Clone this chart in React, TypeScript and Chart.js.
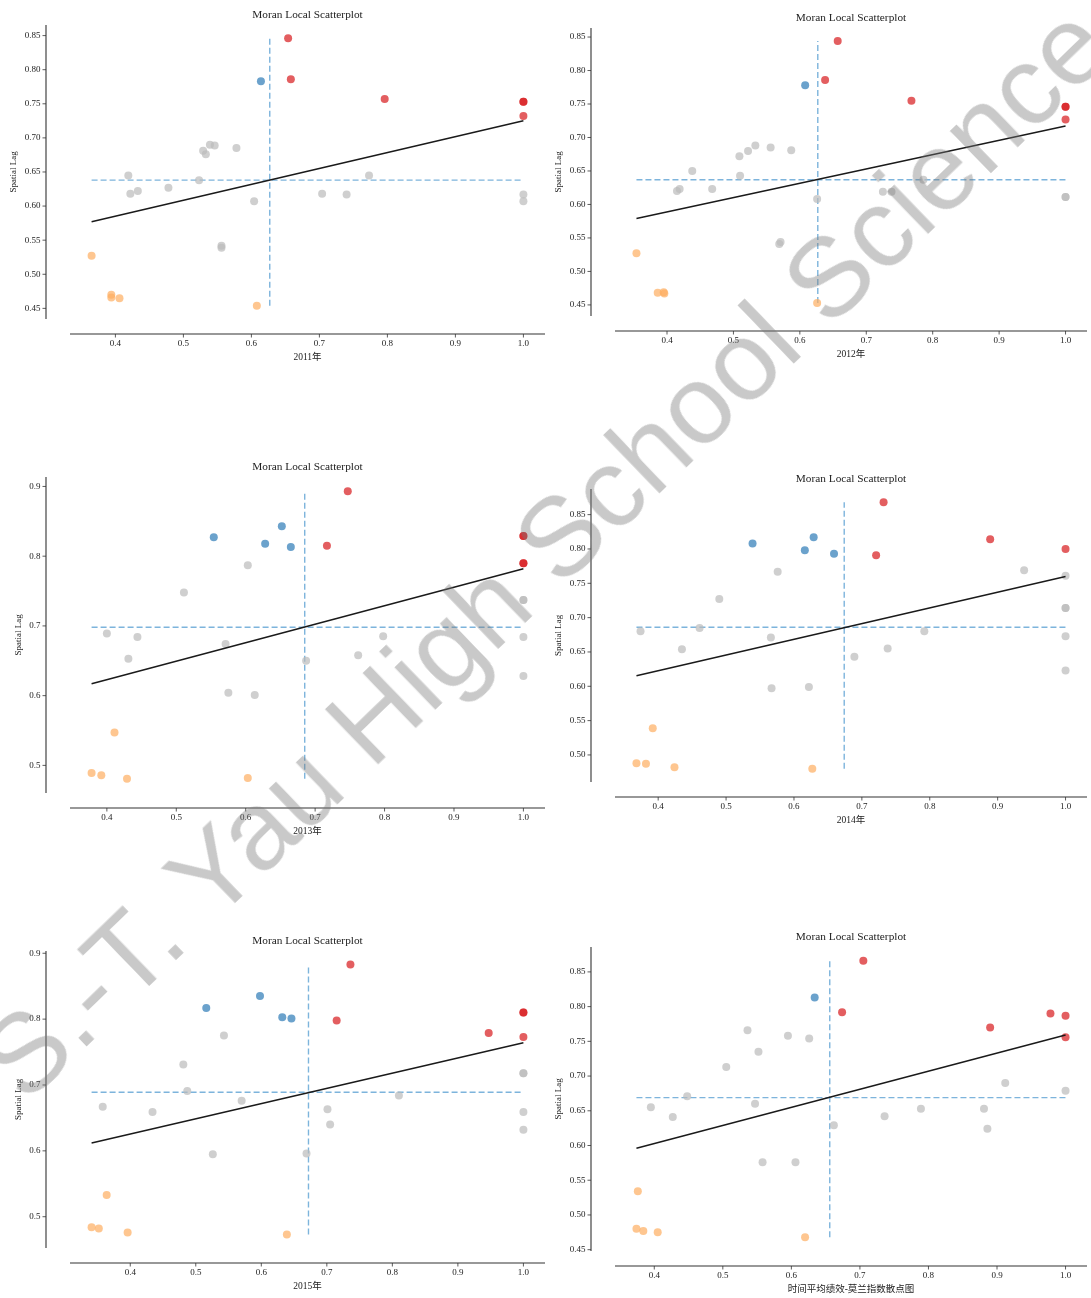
import React, { useEffect, useRef } from "react";
import { Chart, registerables } from "chart.js";

Chart.register(...registerables);

// ---------------- data ----------------
const TITLE = "Moran Local Scatterplot";
const Y_LABEL = "Spatial Lag";
const X_LABELS = ["2011年", "2012年", "2013年", "2014年", "2015年", "时间平均绩效-莫兰指数散点图"];
const CATEGORIES = ["NS", "LL", "LH", "HH"]; // not significant, low-low, low-high, high-high
const X_TICKS = [0.4, 0.5, 0.6, 0.7, 0.8, 0.9, 1.0];
const Y_TICKS_2011 = [0.45, 0.5, 0.55, 0.6, 0.65, 0.7, 0.75, 0.8, 0.85];
const Y_TICKS_2012 = [0.45, 0.5, 0.55, 0.6, 0.65, 0.7, 0.75, 0.8, 0.85];
const Y_TICKS_2013 = [0.5, 0.6, 0.7, 0.8, 0.9];
const Y_TICKS_2014 = [0.5, 0.55, 0.6, 0.65, 0.7, 0.75, 0.8, 0.85];
const Y_TICKS_2015 = [0.5, 0.6, 0.7, 0.8, 0.9];
const Y_TICKS_AVG = [0.45, 0.5, 0.55, 0.6, 0.65, 0.7, 0.75, 0.8, 0.85];

// 2011
const X_2011 = [0.654, 0.658, 0.796, 1.0, 1.0, 1.0, 0.614, 0.365, 0.394, 0.394, 0.406, 0.608, 0.419, 0.422, 0.433, 0.478, 0.523, 0.529, 0.533, 0.539, 0.546, 0.578, 0.556, 0.556, 0.604, 0.704, 0.740, 0.773, 1.0, 1.0];
const Y_2011 = [0.846, 0.786, 0.757, 0.753, 0.753, 0.732, 0.783, 0.527, 0.470, 0.466, 0.465, 0.454, 0.645, 0.618, 0.622, 0.627, 0.638, 0.681, 0.676, 0.690, 0.689, 0.685, 0.542, 0.539, 0.607, 0.618, 0.617, 0.645, 0.617, 0.607];
const Q_2011 = ["HH", "HH", "HH", "HH", "HH", "HH", "LH", "LL", "LL", "LL", "LL", "LL", "NS", "NS", "NS", "NS", "NS", "NS", "NS", "NS", "NS", "NS", "NS", "NS", "NS", "NS", "NS", "NS", "NS", "NS"];
const REG_X_2011 = [0.365, 1.0];
const REG_Y_2011 = [0.577, 0.725];
const MEAN_2011 = [0.627, 0.638];

// 2012
const X_2012 = [0.657, 0.638, 0.768, 1.0, 1.0, 1.0, 0.608, 0.354, 0.386, 0.395, 0.396, 0.626, 0.415, 0.419, 0.438, 0.468, 0.509, 0.510, 0.522, 0.533, 0.556, 0.587, 0.571, 0.569, 0.626, 0.725, 0.738, 0.786, 1.0, 1.0];
const Y_2012 = [0.844, 0.786, 0.755, 0.746, 0.746, 0.727, 0.778, 0.527, 0.468, 0.469, 0.467, 0.453, 0.620, 0.623, 0.650, 0.623, 0.672, 0.643, 0.680, 0.688, 0.685, 0.681, 0.544, 0.541, 0.608, 0.619, 0.619, 0.637, 0.611, 0.611];
const Q_2012 = ["HH", "HH", "HH", "HH", "HH", "HH", "LH", "LL", "LL", "LL", "LL", "LL", "NS", "NS", "NS", "NS", "NS", "NS", "NS", "NS", "NS", "NS", "NS", "NS", "NS", "NS", "NS", "NS", "NS", "NS"];
const REG_X_2012 = [0.354, 1.0];
const REG_Y_2012 = [0.579, 0.717];
const MEAN_2012 = [0.627, 0.637];

// 2013
const X_2013 = [0.747, 0.717, 1.0, 1.0, 1.0, 1.0, 0.554, 0.628, 0.652, 0.665, 0.378, 0.392, 0.411, 0.429, 0.603, 0.400, 0.431, 0.444, 0.511, 0.571, 0.575, 0.603, 0.613, 0.687, 0.762, 0.798, 1.0, 1.0, 1.0, 1.0];
const Y_2013 = [0.893, 0.815, 0.829, 0.829, 0.790, 0.790, 0.827, 0.818, 0.843, 0.813, 0.489, 0.486, 0.547, 0.481, 0.482, 0.689, 0.653, 0.684, 0.748, 0.674, 0.604, 0.787, 0.601, 0.650, 0.658, 0.685, 0.737, 0.737, 0.684, 0.628];
const Q_2013 = ["HH", "HH", "HH", "HH", "HH", "HH", "LH", "LH", "LH", "LH", "LL", "LL", "LL", "LL", "LL", "NS", "NS", "NS", "NS", "NS", "NS", "NS", "NS", "NS", "NS", "NS", "NS", "NS", "NS", "NS"];
const REG_X_2013 = [0.378, 1.0];
const REG_Y_2013 = [0.617, 0.782];
const MEAN_2013 = [0.685, 0.698];

// 2014
const X_2014 = [0.732, 0.721, 0.889, 1.0, 0.539, 0.616, 0.629, 0.659, 0.368, 0.382, 0.392, 0.424, 0.627, 0.374, 0.435, 0.461, 0.490, 0.566, 0.567, 0.576, 0.622, 0.689, 0.738, 0.792, 0.939, 1.0, 1.0, 1.0, 1.0, 1.0];
const Y_2014 = [0.868, 0.791, 0.814, 0.800, 0.808, 0.798, 0.817, 0.793, 0.488, 0.487, 0.539, 0.482, 0.480, 0.680, 0.654, 0.685, 0.727, 0.671, 0.597, 0.767, 0.599, 0.643, 0.655, 0.680, 0.769, 0.761, 0.714, 0.714, 0.673, 0.623];
const Q_2014 = ["HH", "HH", "HH", "HH", "LH", "LH", "LH", "LH", "LL", "LL", "LL", "LL", "LL", "NS", "NS", "NS", "NS", "NS", "NS", "NS", "NS", "NS", "NS", "NS", "NS", "NS", "NS", "NS", "NS", "NS"];
const REG_X_2014 = [0.368, 1.0];
const REG_Y_2014 = [0.6155, 0.760];
const MEAN_2014 = [0.674, 0.686];

// 2015
const X_2015 = [0.736, 0.715, 0.947, 1.0, 1.0, 1.0, 0.516, 0.598, 0.632, 0.646, 0.341, 0.352, 0.364, 0.396, 0.639, 0.358, 0.434, 0.481, 0.487, 0.526, 0.543, 0.570, 0.669, 0.701, 0.705, 0.810, 1.0, 1.0, 1.0, 1.0];
const Y_2015 = [0.883, 0.798, 0.779, 0.810, 0.810, 0.773, 0.817, 0.835, 0.803, 0.801, 0.484, 0.482, 0.533, 0.476, 0.473, 0.667, 0.659, 0.731, 0.691, 0.595, 0.775, 0.676, 0.596, 0.663, 0.640, 0.684, 0.718, 0.718, 0.659, 0.632];
const Q_2015 = ["HH", "HH", "HH", "HH", "HH", "HH", "LH", "LH", "LH", "LH", "LL", "LL", "LL", "LL", "LL", "NS", "NS", "NS", "NS", "NS", "NS", "NS", "NS", "NS", "NS", "NS", "NS", "NS", "NS", "NS"];
const REG_X_2015 = [0.341, 1.0];
const REG_Y_2015 = [0.612, 0.764];
const MEAN_2015 = [0.672, 0.689];

// time-averaged
const X_AVG = [0.705, 0.674, 0.890, 0.978, 1.0, 1.0, 0.634, 0.376, 0.374, 0.384, 0.405, 0.620, 0.395, 0.427, 0.448, 0.505, 0.536, 0.547, 0.552, 0.558, 0.595, 0.606, 0.626, 0.662, 0.736, 0.789, 0.881, 0.886, 0.912, 1.0];
const Y_AVG = [0.866, 0.792, 0.770, 0.790, 0.787, 0.756, 0.813, 0.534, 0.480, 0.477, 0.475, 0.468, 0.655, 0.641, 0.671, 0.713, 0.766, 0.660, 0.735, 0.576, 0.758, 0.576, 0.754, 0.629, 0.642, 0.653, 0.653, 0.624, 0.690, 0.679];
const Q_AVG = ["HH", "HH", "HH", "HH", "HH", "HH", "LH", "LL", "LL", "LL", "LL", "LL", "NS", "NS", "NS", "NS", "NS", "NS", "NS", "NS", "NS", "NS", "NS", "NS", "NS", "NS", "NS", "NS", "NS", "NS"];
const REG_X_AVG = [0.374, 1.0];
const REG_Y_AVG = [0.596, 0.759];
const MEAN_AVG = [0.656, 0.669];

// ---------------- styles / layout ----------------
const FONT = '"Liberation Serif", "DejaVu Serif", "Noto Sans CJK SC", serif';
const TEXT_COLOR = "#222";
const CAT_COLORS: Record<string, string> = {
  HH: "rgba(215,25,28,0.7)",
  LH: "rgba(44,123,182,0.7)",
  LL: "rgba(253,174,97,0.7)",
  NS: "rgba(186,186,186,0.7)",
};
const DASH_COLOR = "rgb(125,180,220)";

type Spec = {
  x: number[]; y: number[]; q: string[];
  regX: number[]; regY: number[]; mean: number[];
  yTicks: number[]; yDec: number; xLabel: string;
};

const SPECS: Spec[] = [
  { x: X_2011, y: Y_2011, q: Q_2011, regX: REG_X_2011, regY: REG_Y_2011, mean: MEAN_2011, yTicks: Y_TICKS_2011, yDec: 2, xLabel: X_LABELS[0] },
  { x: X_2012, y: Y_2012, q: Q_2012, regX: REG_X_2012, regY: REG_Y_2012, mean: MEAN_2012, yTicks: Y_TICKS_2012, yDec: 2, xLabel: X_LABELS[1] },
  { x: X_2013, y: Y_2013, q: Q_2013, regX: REG_X_2013, regY: REG_Y_2013, mean: MEAN_2013, yTicks: Y_TICKS_2013, yDec: 1, xLabel: X_LABELS[2] },
  { x: X_2014, y: Y_2014, q: Q_2014, regX: REG_X_2014, regY: REG_Y_2014, mean: MEAN_2014, yTicks: Y_TICKS_2014, yDec: 2, xLabel: X_LABELS[3] },
  { x: X_2015, y: Y_2015, q: Q_2015, regX: REG_X_2015, regY: REG_Y_2015, mean: MEAN_2015, yTicks: Y_TICKS_2015, yDec: 1, xLabel: X_LABELS[4] },
  { x: X_AVG, y: Y_AVG, q: Q_AVG, regX: REG_X_AVG, regY: REG_Y_AVG, mean: MEAN_AVG, yTicks: Y_TICKS_AVG, yDec: 2, xLabel: X_LABELS[5] },
];

// chart-area top/bottom in page pixels, column, y-title padding
const LAYOUT = [
  { col: 0, T: 25, B: 319, yTitlePad: 8.6 },
  { col: 1, T: 28, B: 316, yTitlePad: 8.6 },
  { col: 0, T: 477, B: 793, yTitlePad: 13.6 },
  { col: 1, T: 489, B: 782, yTitlePad: 8.6 },
  { col: 0, T: 951, B: 1248, yTitlePad: 13.6 },
  { col: 1, T: 947, B: 1251, yTitlePad: 8.6 },
];

const TOP_SPACE = 25;
const X_AXIS_H = 46;
const Y_AXIS_W = 70;
const SPINE_OFF_Y = 24;
const SPINE_OFF_X = 15;

const spinePlugin = {
  id: "offsetSpines",
  afterDraw(chart: any) {
    const { ctx, chartArea } = chart;
    const { left, right, top, bottom } = chartArea;
    const xs = chart.scales.x;
    const ys = chart.scales.y;
    const sx = left - SPINE_OFF_Y;
    const sy = bottom + SPINE_OFF_X;
    ctx.save();
    ctx.strokeStyle = "#333";
    ctx.lineWidth = 1.1;
    ctx.beginPath();
    ctx.moveTo(sx, top);
    ctx.lineTo(sx, bottom);
    ctx.moveTo(left, sy);
    ctx.lineTo(right, sy);
    ctx.stroke();
    ctx.lineWidth = 0.8;
    ctx.beginPath();
    ys.ticks.forEach((t: any) => {
      const p = ys.getPixelForValue(t.value);
      ctx.moveTo(sx - 3.5, p);
      ctx.lineTo(sx, p);
    });
    xs.ticks.forEach((t: any) => {
      const p = xs.getPixelForValue(t.value);
      ctx.moveTo(p, sy);
      ctx.lineTo(p, sy + 3.5);
    });
    ctx.stroke();
    ctx.restore();
  },
};

function Panel({ spec, lay }: { spec: Spec; lay: (typeof LAYOUT)[number] }) {
  const ref = useRef<HTMLCanvasElement>(null);
  const canvasLeft = lay.col === 0 ? 0 : 545;
  const canvasWidth = lay.col === 0 ? 549 : 546;
  const canvasTop = lay.T - TOP_SPACE;
  const canvasHeight = TOP_SPACE + (lay.B - lay.T) + X_AXIS_H;

  useEffect(() => {
    const minX = Math.min(...spec.x), maxX = Math.max(...spec.x);
    const minY = Math.min(...spec.y), maxY = Math.max(...spec.y);
    const mx = (maxX - minX) * 0.05;
    const my = (maxY - minY) * 0.05;

    const datasets: any[] = [];
    datasets.push({
      data: [{ x: minX, y: spec.mean[1] }, { x: maxX, y: spec.mean[1] }],
      showLine: true, borderColor: DASH_COLOR, borderWidth: 1.4, borderDash: [6, 3],
      pointRadius: 0, order: 3,
    });
    datasets.push({
      data: [{ x: spec.mean[0], y: minY }, { x: spec.mean[0], y: maxY }],
      showLine: true, borderColor: DASH_COLOR, borderWidth: 1.4, borderDash: [6, 3],
      pointRadius: 0, order: 3,
    });
    CATEGORIES.forEach((cat) => {
      const pts = spec.x
        .map((xv, i) => ({ x: xv, y: spec.y[i], c: spec.q[i] }))
        .filter((p) => p.c === cat)
        .map((p) => ({ x: p.x, y: p.y }));
      datasets.push({
        data: pts, backgroundColor: CAT_COLORS[cat], borderWidth: 0,
        pointRadius: 4, pointHoverRadius: 4, order: 2,
      });
    });
    datasets.push({
      data: [{ x: spec.regX[0], y: spec.regY[0] }, { x: spec.regX[1], y: spec.regY[1] }],
      showLine: true, borderColor: "#1a1a1a", borderWidth: 1.5, pointRadius: 0, order: 1,
    });

    const tickFont = { family: FONT, size: 9 };
    const chart = new Chart(ref.current as HTMLCanvasElement, {
      type: "scatter",
      data: { datasets },
      options: {
        animation: false,
        responsive: false,
        devicePixelRatio: 1,
        events: [],
        layout: { padding: { left: 0, right: lay.col === 0 ? 0.5 : 0, top: 0, bottom: 0 } },
        plugins: {
          legend: { display: false },
          tooltip: { enabled: false },
          title: {
            display: true, text: TITLE, fullSize: false, color: TEXT_COLOR,
            font: { family: FONT, size: 11.3, weight: "normal" },
            padding: { top: 8.7, bottom: 2.7 },
          },
        },
        scales: {
          x: {
            type: "linear",
            min: minX - mx, max: maxX + mx,
            afterBuildTicks: (s: any) => { s.ticks = X_TICKS.map((v) => ({ value: v })); },
            afterFit: (s: any) => { s.height = X_AXIS_H; },
            ticks: {
              callback: (v: any) => Number(v).toFixed(1),
              font: tickFont, color: TEXT_COLOR, padding: 2, maxRotation: 0, autoSkip: false,
            },
            grid: { display: true, drawOnChartArea: false, drawTicks: true, tickLength: 17.6, color: "rgba(0,0,0,0)" },
            border: { display: false },
            title: {
              display: true, text: spec.xLabel, color: TEXT_COLOR,
              font: { family: FONT, size: 9.5 }, padding: { top: 0, bottom: 2 },
            },
          },
          y: {
            type: "linear",
            min: minY - my, max: maxY + my,
            afterBuildTicks: (s: any) => { s.ticks = spec.yTicks.map((v) => ({ value: v })); },
            afterFit: (s: any) => { s.width = Y_AXIS_W; },
            ticks: {
              callback: (v: any) => Number(v).toFixed(spec.yDec),
              font: tickFont, color: TEXT_COLOR, padding: 2, autoSkip: false,
            },
            grid: { display: true, drawOnChartArea: false, drawTicks: true, tickLength: 27.5, color: "rgba(0,0,0,0)" },
            border: { display: false },
            title: {
              display: true, text: Y_LABEL, color: TEXT_COLOR,
              font: { family: FONT, size: 9 }, padding: { top: lay.yTitlePad, bottom: 0 },
            },
          },
        },
      } as any,
      plugins: [spinePlugin],
    });
    return () => chart.destroy();
  }, [spec, lay]);

  return (
    <canvas
      ref={ref}
      width={canvasWidth}
      height={canvasHeight}
      style={{ position: "absolute", left: canvasLeft, top: canvasTop, width: canvasWidth, height: canvasHeight }}
    />
  );
}

export default function App() {
  return (
    <div
      style={{
        position: "absolute", left: 0, top: 0, width: 1091, height: 1298,
        overflow: "hidden", background: "#fff",
      }}
    >
      {SPECS.map((s, i) => (
        <Panel key={i} spec={s} lay={LAYOUT[i]} />
      ))}
      <div
        style={{
          position: "absolute", left: 544, top: 552,
          transform: "translate(-50%, -50%) rotate(-44deg)",
          fontFamily: '"Liberation Sans", Arial, sans-serif', fontSize: 112, lineHeight: 1,
          whiteSpace: "nowrap", color: "rgba(120,120,120,0.4)", pointerEvents: "none",
        }}
      >
        S.-T. Yau High School Science
      </div>
    </div>
  );
}
